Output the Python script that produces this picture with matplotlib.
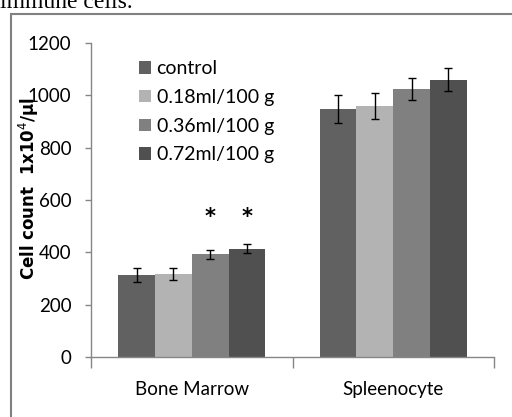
import matplotlib.pyplot as plt
import matplotlib.patches as mpatches
import numpy as np

categories = ['Bone Marrow', 'Spleenocyte']
groups = ['control', '0.18ml/100 g', '0.36ml/100 g', '0.72ml/100 g']
values = {
    'control':      [312, 948],
    '0.18ml/100 g': [317, 960],
    '0.36ml/100 g': [392, 1024],
    '0.72ml/100 g': [414, 1060],
}
errors = {
    'control':      [27, 52],
    '0.18ml/100 g': [23, 50],
    '0.36ml/100 g': [17, 43],
    '0.72ml/100 g': [17, 45],
}
# significance marks: (group, category index)
stars = [('0.36ml/100 g', 0), ('0.72ml/100 g', 0)]
colors = ['#616161', '#b3b3b3', '#808080', '#505050']

fig = plt.figure(figsize=(5.12, 4.17), dpi=100)
ax = fig.add_axes([91/512, 1 - 357/417, (494-91)/512, (357-43)/417])

x = np.arange(len(categories))
w = 0.1825
for i, g in enumerate(groups):
    pos = x + (i - 1.5) * w
    ax.bar(pos, values[g], width=w, color=colors[i], label=g, zorder=2)
    ax.errorbar(pos, values[g], yerr=errors[g], fmt='none', ecolor='black',
                elinewidth=1, capsize=3, capthick=1, zorder=3)

for g, c in stars:
    i = groups.index(g)
    ax.text(x[c] + (i - 1.5) * w, 535, '*', ha='center', va='center',
            fontsize=15, fontweight='bold', family='DejaVu Sans')

ax.set_xlim(-0.5, 1.5)
ax.set_ylim(0, 1200)
ax.set_yticks(range(0, 1201, 200))
ax.set_xticks([-0.5, 0.5, 1.5])
ax.set_xticklabels([])
ax.set_xticks(x, minor=True)
ax.set_xticklabels(categories, minor=True, family='Lato', fontsize=13.5)
ax.tick_params(axis='x', which='major', length=8, color='#868686', width=1)
ax.tick_params(axis='x', which='minor', length=0, pad=17)
ax.tick_params(axis='y', length=4, color='#868686', width=1, pad=10,
               labelsize=13.5)
for lab in ax.get_yticklabels():
    lab.set_family('Lato')

for s in ['top', 'right']:
    ax.spines[s].set_visible(False)
for s in ['left', 'bottom']:
    ax.spines[s].set_color('#868686')
    ax.spines[s].set_linewidth(1)

fig.text(29/512, 1 - 188/417, 'Cell count  1x10$^4$/µl', rotation=90,
         ha='center', va='center', fontweight='bold', fontsize=12,
         family='DejaVu Sans')

leg = ax.legend(loc='upper left', bbox_to_anchor=(0.1, 0.97), frameon=False,
                prop={'family': 'Lato', 'size': 14}, handlelength=0.6,
                handleheight=0.6, handletextpad=0.3, labelspacing=0.6,
                borderaxespad=0)

# outer frame of the figure panel, cut by the page
fig.patches.append(mpatches.Rectangle((11/512, -0.1), 1.2, 1 - 14/417 + 0.1,
                                      transform=fig.transFigure, fill=False,
                                      edgecolor='#808080', linewidth=1.5))
fig.text(0.0, 1 - 8/417, 'immune cells.', family='Liberation Serif',
         fontsize=17, va='baseline', ha='left')

fig.savefig('out.png', dpi=100)
